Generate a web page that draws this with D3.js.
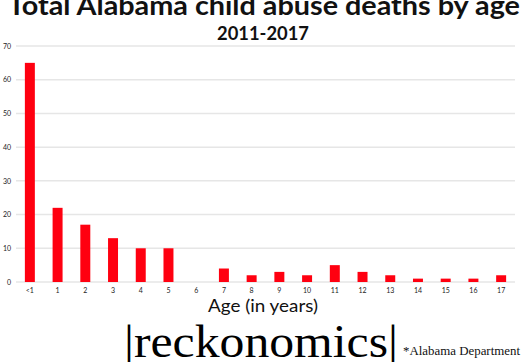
<!DOCTYPE html>
<html><head><meta charset="utf-8">
<script src="https://cdn.jsdelivr.net/npm/d3@7"></script>
<style>body{margin:0;background:#fff}svg{display:block}</style>
</head><body>
<svg id="c" width="526" height="362"></svg>
<script>
const categories = ["<1","1","2","3","4","5","6","7","8","9","10","11","12","13","14","15","16","17"];
const deaths = [65,22,17,13,10,10,0,4,2,3,2,5,3,2,1,1,1,2];
const yTicks = [0,10,20,30,40,50,60,70];
const title = "Total Alabama child abuse deaths by age";
const subtitle = "2011-2017";
const xTitle = "Age (in years)";

(function(){
const svg = d3.select("#c");
const pL = 16, pR = 515, pT = 46, pB = 282;
const x = d3.scaleBand().domain(categories).range([pL, pR]).paddingInner(0.64).paddingOuter(0.32);
const y = d3.scaleLinear().domain([0,70]).range([pB, pT]);

svg.append("g").selectAll("line").data(yTicks).join("line")
  .attr("x1", pL).attr("x2", pR)
  .attr("y1", d => y(d)).attr("y2", d => y(d))
  .attr("stroke", "#e6e6e6").attr("stroke-width", 1.5);

const ya = svg.append("g").attr("transform", `translate(${pL-3},0)`)
  .call(d3.axisLeft(y).tickValues(yTicks).tickSize(0).tickPadding(2));
ya.select(".domain").remove();
ya.selectAll("text").attr("font-family","Lato, sans-serif").attr("font-size",7).attr("fill","#222");

svg.append("g").selectAll("rect").data(deaths).join("rect")
  .attr("x", (d,i) => x(categories[i]))
  .attr("width", x.bandwidth())
  .attr("y", d => y(d))
  .attr("height", d => y(0) - y(d))
  .attr("fill", "#ff0010");

const xa = svg.append("g").attr("transform", `translate(0,${pB})`)
  .call(d3.axisBottom(x).tickSize(0).tickPadding(6));
xa.select(".domain").remove();
xa.selectAll("text").attr("font-family","Lato, sans-serif").attr("font-size",7).attr("fill","#222");

svg.append("text").attr("x", 264).attr("y", 15).attr("text-anchor","middle")
  .attr("font-family","Lato, sans-serif").attr("font-weight","bold").attr("font-size",27)
  .attr("textLength", 512).attr("lengthAdjust","spacingAndGlyphs").attr("fill","#111").text(title);
svg.append("text").attr("x", 263).attr("y", 40).attr("text-anchor","middle")
  .attr("font-family","Lato, sans-serif").attr("font-weight","bold").attr("font-size",19)
  .attr("textLength", 92).attr("lengthAdjust","spacingAndGlyphs").attr("fill","#111").text(subtitle);
svg.append("text").attr("x", 263).attr("y", 312).attr("text-anchor","middle")
  .attr("font-family","Lato, sans-serif").attr("font-size",17)
  .attr("textLength", 110).attr("lengthAdjust","spacingAndGlyphs").attr("fill","#111").text(xTitle);

svg.append("text").attr("x", 124).attr("y", 357)
  .attr("font-family","Liberation Serif, serif").attr("font-size",46)
  .attr("textLength", 274).attr("lengthAdjust","spacingAndGlyphs").attr("fill","#000").text("|reckonomics|");
svg.append("text").attr("x", 403).attr("y", 355)
  .attr("font-family","Liberation Serif, serif").attr("font-size",11.5)
  .attr("textLength", 117).attr("lengthAdjust","spacingAndGlyphs").attr("fill","#111").text("*Alabama Department");
svg.append("text").attr("x", 406).attr("y", 371)
  .attr("font-family","Liberation Serif, serif").attr("font-size",11.5)
  .attr("fill","#111").text("of Human Resources");
})();
</script>
</body></html>
